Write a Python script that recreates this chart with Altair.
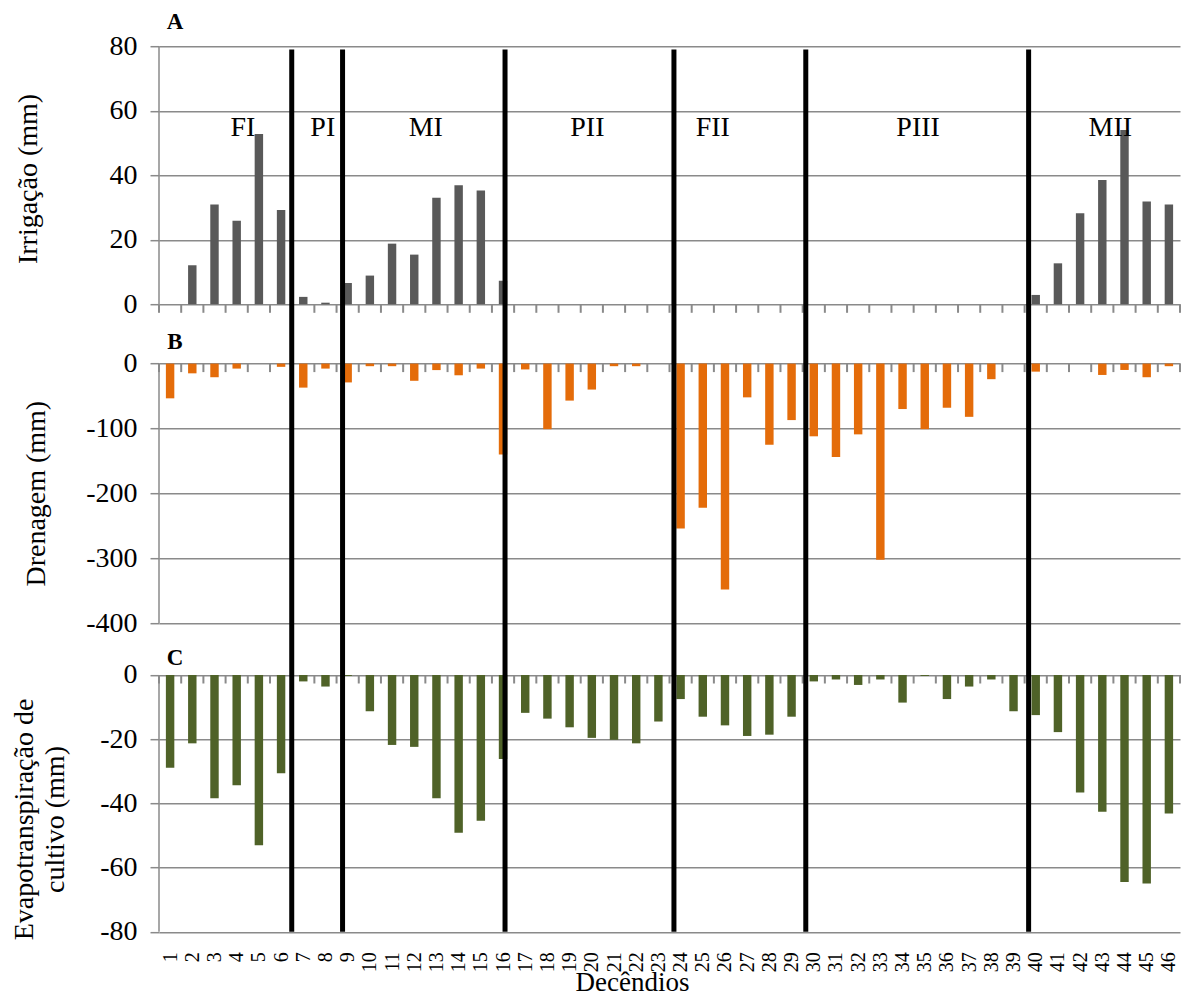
import altair as alt
import pandas as pd

SERIF = "Liberation Serif"
GRAY = "#8a8a8a"

decendios = list(range(1, 47))
limites = list(range(0, 47))

irrigacao = [0, 12.1, 30.9, 25.9, 52.8, 29.2, 2.3, 0.5, 6.6, 8.9,
             18.8, 15.4, 33.0, 36.9, 35.3, 7.3, 0, 0, 0, 0,
             0, 0, 0, 0, 0, 0, 0, 0, 0, 0,
             0, 0, 0, 0, 0, 0, 0, 0, 0, 2.9,
             12.7, 28.2, 38.5, 54.0, 31.9, 30.9]

drenagem = [-53.5, -15, -21, -7.7, 0, -5, -37, -7.7, -29, -4,
            -4, -26.5, -10, -18, -7.7, -140, -9, -101, -57, -40,
            -4, -4, 0, -254, -222, -348, -52, -125, -87, -112,
            -144, -109, -302, -70, -101, -68, -82, -24, 0, -12.4,
            0, 0, -17.5, -9.8, -21, -4]

evapotransp = [-28.9, -21.3, -38.4, -34.4, -53.1, -30.6, -2.0, -3.6, -0.3, -11.3,
               -21.8, -22.4, -38.4, -49.2, -45.4, -26.2, -11.8, -13.6, -16.3, -19.6,
               -20.2, -21.3, -14.5, -7.5, -13.0, -15.7, -19.0, -18.6, -13.0, -2.0,
               -1.4, -3.1, -1.4, -8.6, -0.3, -7.5, -3.6, -1.4, -11.3, -12.5,
               -17.8, -36.6, -42.6, -64.5, -65.0, -43.2]

fases = ["FI", "PI", "MI", "PII", "FII", "PIII", "MII"]
fases_x = [3.78, 7.38, 12.02, 19.3, 24.95, 34.2, 42.86]
divisores = [5.98, 8.27, 15.59, 23.2, 29.14, 39.18]

ticks_A = [0, 20, 40, 60, 80]
ticks_B = [0, -100, -200, -300, -400]
ticks_C = [0, -20, -40, -60, -80]

# ---- layout (pixels) ----
W = 1021
H = 885.5
TICK_PX = 8.5
GEO_A = (0.0, 258.1)      # 80 .. 0
GEO_B = (317.4, 577.1)    # 0 .. -400
GEO_C = (628.8, 885.5)    # 0 .. -80


def px_per_unit(ticks, geo):
    return (geo[1] - geo[0]) / (max(ticks) - min(ticks))


def domain_for(ticks, geo):
    k = px_per_unit(ticks, geo)
    top = max(ticks) + geo[0] / k
    bottom = min(ticks) - (H - geo[1]) / k
    return [bottom, top]


xs = alt.Scale(domain=[0, 46], nice=False, zero=False)


def yscale(dom):
    return alt.Scale(domain=dom, nice=False, zero=False)


label_axis = alt.Axis(
    orient="bottom", values=[d - 0.5 for d in decendios],
    labelExpr="format(datum.value + 0.5, 'd')", labelAngle=270,
    labelAlign="right", labelBaseline="middle", labelFontSize=20,
    labelFont=SERIF, labelColor="black", labelPadding=20, labelFlush=False,
    labelOverlap=False, ticks=False, tickSize=0, domain=False, grid=False,
    title="Decêndios", titleFont=SERIF, titleFontSize=27, titleFontWeight="normal",
    titleColor="black", titleX=473, titleY=59, titleAlign="center",
    titleBaseline="alphabetic", titleAngle=0)


def y_axis(vals, title, tx, ty, lh=None):
    kw = dict(orient="left", values=vals, labelExpr="'' + datum.value", grid=True,
              gridColor=GRAY, gridWidth=1.5, ticks=True, tickSize=9, tickColor=GRAY,
              tickWidth=1.5, domain=False, labelFont=SERIF, labelFontSize=28,
              labelColor="black", labelPadding=13, labelFlush=False,
              labelOverlap=False, title=title, titleFont=SERIF,
              titleFontSize=28, titleFontWeight="normal", titleColor="black",
              titleAngle=270, titleX=tx, titleY=ty, titleAlign="center",
              titleBaseline="alphabetic")
    if lh is not None:
        kw["titleLineHeight"] = lh
    return alt.Axis(**kw)


def panel(values, color, ticks, geo, yax, letter, letter_y,
          with_dividers=False, with_phases=False, with_labels=False):
    dom = domain_for(ticks, geo)
    tick_len = TICK_PX / px_per_unit(ticks, geo)
    ys = yscale(dom)
    df = pd.DataFrame({"dec": decendios, "v": values})
    bars = alt.Chart(df).transform_calculate(
        x0="datum.dec - 0.69", x1="datum.dec - 0.31"
    ).mark_bar(color=color).encode(
        x=alt.X("x0:Q", scale=xs, axis=None),
        x2="x1:Q",
        y=alt.Y("v:Q", scale=ys, axis=yax),
        y2=alt.Y2Datum(0),
    )
    ydom = alt.Chart(pd.DataFrame({"x": [0], "y0": [max(ticks)], "y1": [min(ticks)]})).mark_rule(
        color=GRAY, strokeWidth=1.5
    ).encode(
        x=alt.X("x:Q", scale=xs, axis=label_axis if with_labels else None),
        y=alt.Y("y0:Q", scale=ys, axis=yax),
        y2="y1:Q",
    )
    xticks = alt.Chart(pd.DataFrame({"b": limites})).mark_rule(
        color=GRAY, strokeWidth=2
    ).encode(
        x=alt.X("b:Q", scale=xs, axis=None),
        y=alt.YDatum(0, scale=ys, axis=yax),
        y2=alt.Y2Datum(-tick_len),
    )
    let = alt.Chart(pd.DataFrame({"t": [letter]})).mark_text(
        font=SERIF, fontSize=23, fontWeight="bold", color="black",
        align="center", baseline="alphabetic"
    ).encode(
        x=alt.XDatum(0.72, scale=xs, axis=None),
        y=alt.YDatum(letter_y, scale=ys, axis=yax),
        text="t:N",
    )
    layers = [bars, ydom, xticks, let]
    if with_phases:
        ph = alt.Chart(pd.DataFrame({"nome": fases, "xc": fases_x})).mark_text(
            font=SERIF, fontSize=28, color="black", align="center", baseline="alphabetic"
        ).encode(
            x=alt.X("xc:Q", scale=xs, axis=None),
            y=alt.YDatum(52.2, scale=ys, axis=yax),
            text="nome:N",
        )
        layers.append(ph)
    if with_dividers:
        rules = alt.Chart(pd.DataFrame({"pos": divisores})).mark_rule(
            color="black", strokeWidth=5
        ).encode(
            x=alt.X("pos:Q", scale=xs, axis=None),
            y=alt.YDatum(79, scale=ys, axis=yax),
            y2=alt.Y2Datum(dom[0]),
        )
        layers.append(rules)
    return alt.layer(*layers).resolve_axis(x="independent")


pA = panel(irrigacao, "#595959", ticks_A, GEO_A,
           y_axis(ticks_A, "Irrigação (mm)", -123, 132.3),
           "A", 85.3, with_dividers=True, with_phases=True)
pB = panel(drenagem, "#E46C0A", ticks_B, GEO_B,
           y_axis(ticks_B, "Drenagem (mm)", -115, 447),
           "B", 22)
pC = panel(evapotransp, "#4F6228", ticks_C, GEO_C,
           y_axis(ticks_C, ["Evapotranspiração de", "cultivo (mm)"], -127, 772.8, lh=32),
           "C", 3.1, with_labels=True)

chart = alt.layer(pB, pC, pA).resolve_scale(y="independent").resolve_axis(
    x="independent", y="independent"
).properties(
    width=W, height=H,
    autosize=alt.AutoSizeParams(type="none"),
    padding={"left": 151, "top": 38.2, "right": 3, "bottom": 61},
    background="white",
).configure_view(stroke=None)

chart.save("out.html", embed_options={"renderer": "svg", "actions": False})
